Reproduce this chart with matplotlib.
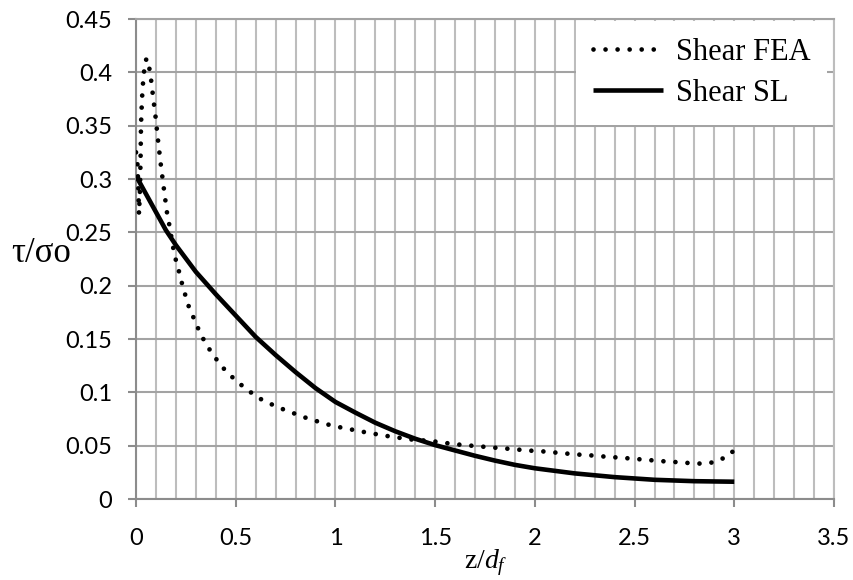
import matplotlib
matplotlib.use('Agg')
import matplotlib.pyplot as plt
from matplotlib.ticker import MultipleLocator

# data
fea_x = [0.0, 0.007, 0.012, 0.015, 0.02, 0.023, 0.025, 0.03, 0.038, 0.052, 0.065, 0.075,
         0.085, 0.097, 0.11, 0.124, 0.139, 0.155, 0.166, 0.187, 0.201, 0.216, 0.232, 0.249,
         0.267, 0.291, 0.316, 0.343, 0.376, 0.411, 0.45, 0.493, 0.54, 0.59, 0.64, 0.695,
         0.752, 0.811, 0.868, 0.925, 0.983, 1.04, 1.10, 1.16, 1.22, 1.28, 1.34, 1.40, 1.46,
         1.52, 1.58, 1.64, 1.70, 1.76, 1.82, 1.88, 1.94, 2.00, 2.06, 2.125, 2.185, 2.247,
         2.307, 2.367, 2.427, 2.487, 2.548, 2.609, 2.669, 2.73, 2.792, 2.852, 2.912, 2.959,
         2.982, 2.99, 3.0]
fea_y = [0.325, 0.315, 0.29, 0.267, 0.29, 0.32, 0.35, 0.375, 0.398, 0.413, 0.406, 0.394,
         0.378, 0.36, 0.337, 0.314, 0.292, 0.269, 0.258, 0.235, 0.223, 0.213, 0.201, 0.19,
         0.179, 0.169, 0.158, 0.148, 0.138, 0.129, 0.12, 0.1125, 0.105, 0.098, 0.092, 0.0875,
         0.083, 0.079, 0.075, 0.072, 0.0687, 0.0666, 0.0644, 0.0622, 0.0603, 0.0584, 0.0569,
         0.0553, 0.0547, 0.0534, 0.0518, 0.0506, 0.0497, 0.0487, 0.0478, 0.0469, 0.0459,
         0.045, 0.0444, 0.0431, 0.0422, 0.0412, 0.0406, 0.0394, 0.0388, 0.0378, 0.0369,
         0.0359, 0.035, 0.0344, 0.0334, 0.0331, 0.035, 0.0397, 0.0422, 0.0438, 0.0545]

sl_x = [0.0, 0.05, 0.1, 0.15, 0.2, 0.3, 0.4, 0.5, 0.6, 0.7, 0.8, 0.9, 1.0, 1.1, 1.2, 1.3,
        1.4, 1.5, 1.6, 1.7, 1.8, 1.9, 2.0, 2.2, 2.4, 2.6, 2.8, 3.0]
sl_y = [0.303, 0.286, 0.269, 0.252, 0.238, 0.213, 0.192, 0.172, 0.152, 0.135, 0.119, 0.104,
        0.091, 0.081, 0.0715, 0.0635, 0.0565, 0.0505, 0.0455, 0.0405, 0.036, 0.032, 0.0288,
        0.024, 0.0205, 0.018, 0.0167, 0.0162]

x_ticks = [0, 0.5, 1, 1.5, 2, 2.5, 3, 3.5]
x_labels = ['0', '0.5', '1', '1.5', '2', '2.5', '3', '3.5']
y_ticks = [0, 0.05, 0.1, 0.15, 0.2, 0.25, 0.3, 0.35, 0.4, 0.45]
y_labels = ['0', '0.05', '0.1', '0.15', '0.2', '0.25', '0.3', '0.35', '0.4', '0.45']

plt.rcParams['mathtext.fontset'] = 'custom'
plt.rcParams['mathtext.rm'] = 'Liberation Serif'
plt.rcParams['mathtext.it'] = 'Liberation Serif:italic'

fig = plt.figure(figsize=(8.54, 5.80), dpi=100)
ax = fig.add_axes([136/854, 1-499/580, 698/854, 480/580])

ax.plot(fea_x, fea_y, color='black', lw=3.4, linestyle=(0, (0.001, 2.55)),
        dash_capstyle='round', label='Shear FEA', zorder=3)
ax.plot(sl_x, sl_y, color='black', lw=3.3, solid_capstyle='butt', label='Shear SL', zorder=3)

ax.set_xlim(0, 3.5)
ax.set_ylim(0, 0.45)
ax.set_xticks(x_ticks)
ax.set_xticklabels(x_labels)
ax.xaxis.set_minor_locator(MultipleLocator(0.1))
ax.set_yticks(y_ticks)
ax.set_yticklabels(y_labels)

ax.grid(True, axis='x', which='both', color='#bdbdbd', lw=1.5)
ax.grid(True, axis='y', which='major', color='#a3a3a3', lw=1.5)
ax.set_axisbelow(True)

for s in ax.spines.values():
    s.set_color('#8c8c8c')
    s.set_linewidth(1.5)
ax.spines['top'].set_color('#a3a3a3')
ax.spines['right'].set_color('#bdbdbd')

ax.tick_params(axis='both', which='major', direction='out', length=6, width=1.5,
               color='#8c8c8c', labelsize=17)
ax.tick_params(axis='x', which='major', pad=15)
ax.tick_params(axis='y', which='major', pad=11)
ax.tick_params(axis='x', which='minor', length=0)
for lab in ax.get_xticklabels() + ax.get_yticklabels():
    lab.set_fontfamily('Lato')

leg = ax.legend(loc='upper right', bbox_to_anchor=(0.99, 0.996), borderaxespad=0,
                prop={'family': 'Liberation Serif', 'size': 22}, frameon=True,
                handlelength=2.3, handletextpad=0.4, labelspacing=0.4, borderpad=0.55)
leg.get_frame().set_facecolor('white')
leg.get_frame().set_edgecolor('none')
leg.get_frame().set_alpha(1)
leg.get_frame().set_boxstyle('square', pad=0)

fig.text(41/854, 1-254/580, 'τ/σo', family='Liberation Serif', fontsize=25,
         ha='center', va='center')
fig.text(486/854, 1-563/580, 'z/$d_f$', family='Liberation Serif', fontsize=20,
         ha='center', va='center')

plt.savefig('out.png', dpi=100)
